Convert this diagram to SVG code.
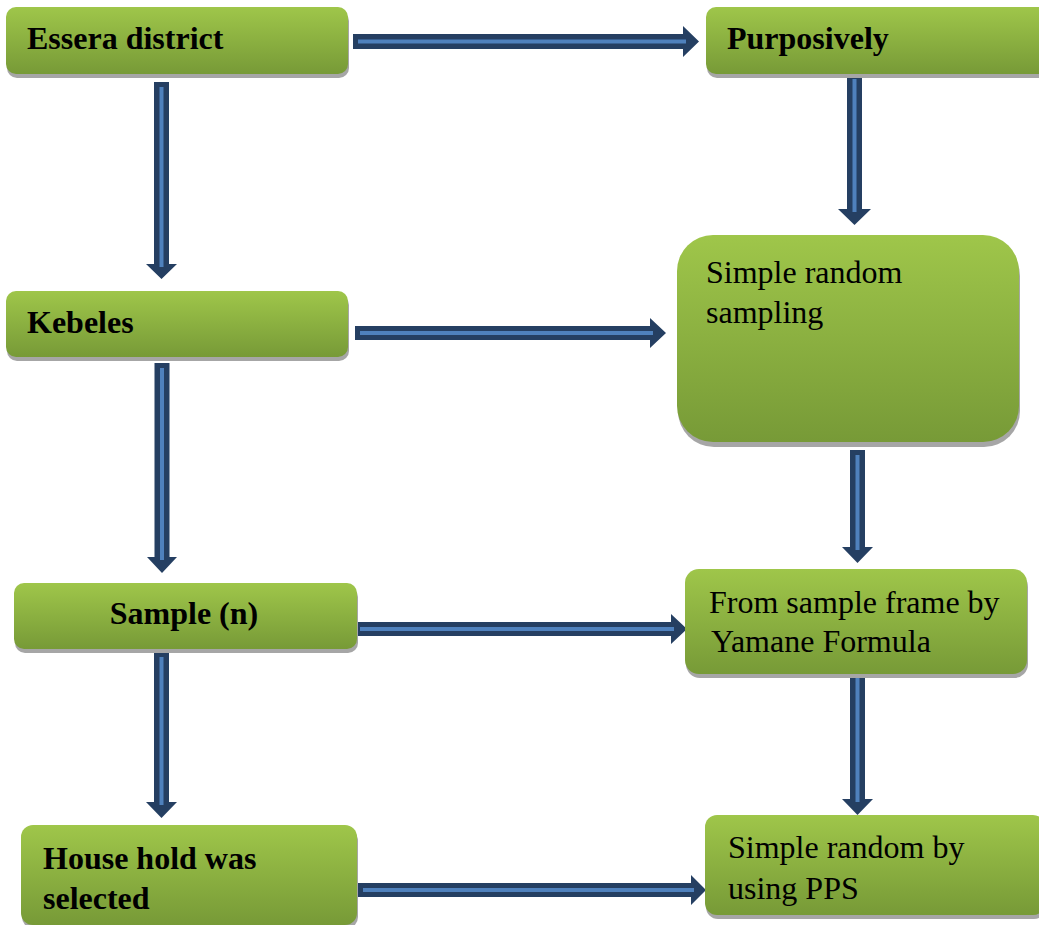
<svg xmlns="http://www.w3.org/2000/svg" width="1039" height="925" viewBox="0 0 1039 925">
<defs>
<linearGradient id="g" x1="0" y1="0" x2="0" y2="1">
<stop offset="0" stop-color="#9fc64a"/>
<stop offset="1" stop-color="#779a37"/>
</linearGradient>
</defs>
<style>
.box{fill:url(#g);}
.sh{fill:#a6a6a6;}
.t{font-family:"Liberation Serif","Times New Roman",serif;font-size:32px;fill:#000;}
.b{font-weight:bold;}
.ar{fill:#253f62;}
.st{fill:#4f81bd;}
</style>
<rect width="1039" height="925" fill="#fff"/>
<g id="connectors">
<polygon class="ar" points="353,34 683,34 683,26 699,41.5 683,57 683,49 353,49"/>
<rect class="st" x="358" y="39.5" width="328" height="4"/>
<polygon class="ar" points="355,326 650,326 650,318 666,333 650,348 650,340 355,340"/>
<rect class="st" x="360" y="331" width="293" height="4"/>
<polygon class="ar" points="355,622 671,622 671,614 687,629 671,644 671,636 355,636"/>
<rect class="st" x="360" y="627" width="314" height="4"/>
<polygon class="ar" points="358,883 691,883 691,875 706,890 691,905 691,897 358,897"/>
<rect class="st" x="363" y="888" width="331" height="4"/>
<polygon class="ar" points="154,82 169,82 169,264 177,264 161.5,279 146,264 154,264"/>
<rect class="st" x="159.5" y="87" width="4" height="180"/>
<polygon class="ar" points="847,74 862,74 862,209 871,209 854.5,225 838,209 847,209"/>
<rect class="st" x="852.5" y="79" width="4" height="133"/>
<polygon class="ar" points="154.5,363 169.5,363 169.5,557 177,557 162,573 147,557 154.5,557"/>
<rect class="st" x="160" y="368" width="4" height="192"/>
<polygon class="ar" points="850,450 865,450 865,547 873,547 857.5,563 842,547 850,547"/>
<rect class="st" x="855.5" y="455" width="4" height="95"/>
<polygon class="ar" points="154,652 169,652 169,802 177,802 161.5,818 146,802 154,802"/>
<rect class="st" x="159.5" y="657" width="4" height="148"/>
<polygon class="ar" points="850,665 865,665 865,799 873,799 857.5,815 842,799 850,799"/>
<rect class="st" x="855.5" y="670" width="4" height="132"/>
</g>
<g id="essera">
<rect class="sh" x="7" y="11" width="342" height="67" rx="10"/>
<rect class="box" x="6" y="7" width="342" height="67" rx="10"/>
<text class="t b" x="27" y="49">Essera district</text>
</g>
<g id="purposively">
<rect class="sh" x="707" y="11" width="345" height="67" rx="10"/>
<rect class="box" x="706" y="7" width="345" height="67" rx="10"/>
<text class="t b" x="727" y="49">Purposively</text>
</g>
<g id="kebeles">
<rect class="sh" x="7" y="295" width="342" height="66" rx="10"/>
<rect class="box" x="6" y="291" width="342" height="66" rx="10"/>
<text class="t b" x="27" y="333">Kebeles</text>
</g>
<g id="srs">
<rect class="sh" x="678" y="240" width="342" height="207" rx="36"/>
<rect class="box" x="677" y="235" width="342" height="207" rx="36"/>
<text class="t" x="706" y="283">Simple random</text>
<text class="t" x="706" y="323">sampling</text>
</g>
<g id="sample">
<rect class="sh" x="15" y="587" width="343" height="66" rx="10"/>
<rect class="box" x="14" y="583" width="343" height="66" rx="10"/>
<text class="t b" x="184" y="624" text-anchor="middle">Sample (n)</text>
</g>
<g id="frame">
<rect class="sh" x="686" y="573" width="342" height="105" rx="14"/>
<rect class="box" x="685" y="569" width="342" height="105" rx="14"/>
<text class="t" x="709" y="613">From sample frame by</text>
<text class="t" x="711" y="652">Yamane Formula</text>
</g>
<g id="household">
<rect class="sh" x="22" y="829" width="336" height="100" rx="12"/>
<rect class="box" x="21" y="825" width="336" height="100" rx="12"/>
<text class="t b" x="43" y="869">House hold was</text>
<text class="t b" x="43" y="909">selected</text>
</g>
<g id="pps">
<rect class="sh" x="706" y="819" width="340" height="100" rx="12"/>
<rect class="box" x="705" y="815" width="340" height="100" rx="12"/>
<text class="t" x="728" y="858">Simple random by</text>
<text class="t" x="728" y="899">using PPS</text>
</g>
</svg>
